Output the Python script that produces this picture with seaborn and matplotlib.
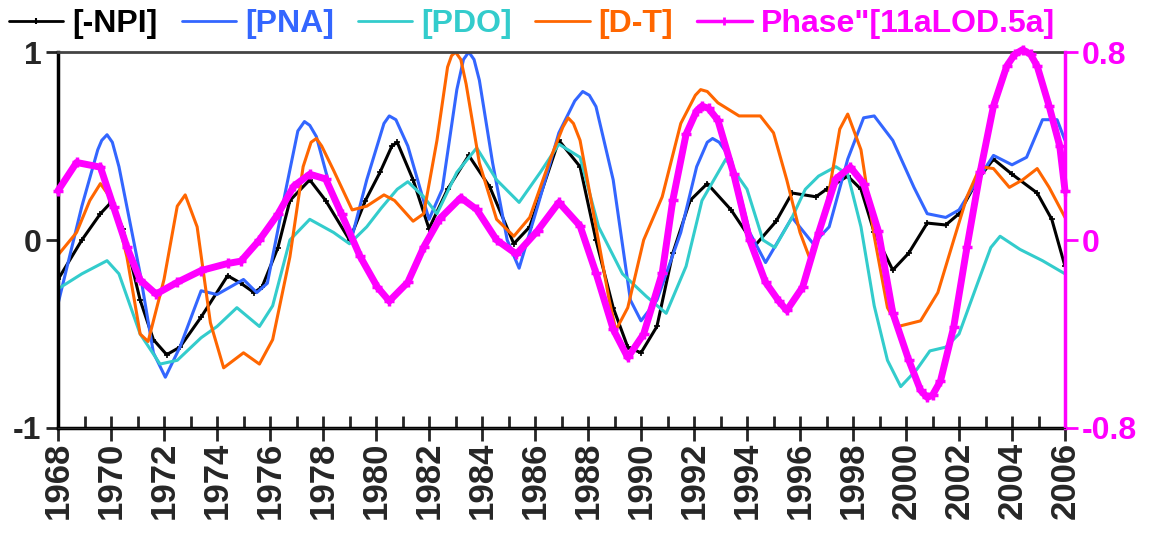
import matplotlib
matplotlib.use("Agg")
import matplotlib.pyplot as plt
import seaborn as sns
from matplotlib.lines import Line2D
from matplotlib.ticker import MultipleLocator

# values (year, value)
npi_x = [1968.0, 1968.9, 1969.6, 1970.0, 1970.45, 1971.1, 1971.6, 1972.1, 1972.6, 1973.4,
         1974.4, 1974.9, 1975.4, 1975.7, 1976.3, 1976.75, 1977.5, 1978.1, 1979.0, 1979.6,
         1980.15, 1980.6, 1980.8, 1981.4, 1982.0, 1982.7, 1983.5, 1984.3, 1985.2, 1985.8,
         1986.9, 1987.7, 1988.3, 1988.95, 1989.5, 1990.0, 1990.6, 1991.2, 1991.85, 1992.5,
         1993.4, 1994.3, 1995.1, 1995.7, 1996.6, 1997.0, 1997.8, 1998.3, 1998.8, 1999.5,
         2000.1, 2000.8, 2001.5, 2002.0, 2002.7, 2003.3, 2004.0, 2004.95, 2005.5, 2006.0]
npi_y = [-0.21, 0.0, 0.14, 0.2, 0.06, -0.32, -0.53, -0.61, -0.57, -0.41,
         -0.19, -0.23, -0.28, -0.25, -0.04, 0.21, 0.32, 0.21, 0.0, 0.21,
         0.36, 0.5, 0.52, 0.32, 0.06, 0.27, 0.45, 0.28, -0.02, 0.07,
         0.53, 0.39, 0.0, -0.36, -0.57, -0.6, -0.46, -0.07, 0.21, 0.3,
         0.16, -0.03, 0.1, 0.25, 0.23, 0.27, 0.34, 0.27, 0.04, -0.16,
         -0.07, 0.09, 0.08, 0.14, 0.32, 0.43, 0.35, 0.25, 0.11, -0.14]

pna_x = [1968.0, 1968.9, 1969.5, 1969.65, 1969.85, 1970.05, 1970.3, 1971.1, 1971.6, 1972.05,
         1972.6, 1973.4, 1974.0, 1975.0, 1975.5, 1975.9, 1976.6, 1977.05, 1977.3, 1977.5,
         1977.75, 1978.4, 1979.1, 1979.65, 1980.3, 1980.5, 1980.75, 1981.2, 1982.0, 1982.5,
         1983.05, 1983.3, 1983.5, 1983.7, 1983.9, 1984.4, 1984.95, 1985.4, 1986.1, 1986.9,
         1987.5, 1987.8, 1988.05, 1988.3, 1988.95, 1989.6, 1990.0, 1990.6, 1991.5, 1992.1,
         1992.5, 1992.7, 1992.95, 1993.4, 1994.1, 1994.7, 1995.7, 1996.5, 1997.1, 1997.8,
         1998.4, 1998.8, 1999.5, 2000.3, 2000.8, 2001.5, 2002.0, 2002.7, 2003.3, 2004.0,
         2004.55, 2005.15, 2005.7, 2006.0]
pna_y = [-0.34, 0.18, 0.48, 0.53, 0.56, 0.52, 0.39, -0.18, -0.6, -0.73,
         -0.57, -0.27, -0.29, -0.21, -0.28, -0.23, 0.27, 0.58, 0.63, 0.61,
         0.55, 0.21, 0.02, 0.32, 0.62, 0.66, 0.64, 0.5, 0.11, 0.27,
         0.8, 0.96, 1.0, 0.96, 0.85, 0.41, 0.0, -0.15, 0.18, 0.57,
         0.74, 0.79, 0.77, 0.71, 0.32, -0.32, -0.43, -0.32, 0.04, 0.39,
         0.52, 0.54, 0.52, 0.43, 0.04, -0.12, 0.12, -0.02, 0.07, 0.43,
         0.65, 0.66, 0.53, 0.28, 0.14, 0.12, 0.16, 0.32, 0.45, 0.4,
         0.44, 0.64, 0.64, 0.53]

pdo_x = [1968.0, 1968.9, 1969.85, 1970.3, 1971.1, 1971.85, 1972.5, 1973.4, 1974.0, 1974.75,
         1975.6, 1976.1, 1976.75, 1977.5, 1978.4, 1979.0, 1979.65, 1980.2, 1980.8, 1981.2,
         1981.8, 1982.3, 1983.05, 1983.8, 1984.55, 1985.4, 1986.2, 1986.9, 1987.7, 1988.4,
         1989.3, 1990.2, 1990.95, 1991.7, 1992.3, 1993.2, 1994.0, 1994.6, 1995.05, 1995.7,
         1996.2, 1996.7, 1997.35, 1997.8, 1998.3, 1998.8, 1999.3, 1999.8, 2000.4, 2000.9,
         2001.5, 2002.0, 2002.7, 2003.2, 2003.55, 2004.3, 2005.15, 2006.0]
pdo_y = [-0.26, -0.18, -0.11, -0.18, -0.5, -0.66, -0.64, -0.52, -0.46, -0.36,
         -0.46, -0.35, 0.0, 0.11, 0.04, -0.02, 0.07, 0.17, 0.27, 0.31,
         0.23, 0.14, 0.36, 0.49, 0.32, 0.2, 0.36, 0.51, 0.44, 0.07,
         -0.18, -0.3, -0.39, -0.14, 0.21, 0.43, 0.27, 0.0, -0.04, 0.12,
         0.27, 0.34, 0.39, 0.35, 0.07, -0.35, -0.64, -0.78, -0.69, -0.59,
         -0.57, -0.5, -0.23, -0.04, 0.02, -0.05, -0.11, -0.18]

dt_x = [1968.0, 1968.7, 1969.2, 1969.6, 1970.1, 1970.6, 1971.1, 1971.4, 1972.0, 1972.5,
        1972.8, 1973.25, 1973.75, 1974.25, 1975.0, 1975.6, 1976.1, 1976.75, 1977.25, 1977.55,
        1977.75, 1977.95, 1978.4, 1979.1, 1979.65, 1980.3, 1980.7, 1981.4, 1981.8, 1982.3,
        1982.7, 1982.85, 1983.0, 1983.2, 1983.4, 1983.9, 1984.55, 1985.2, 1985.8, 1986.6,
        1987.05, 1987.25, 1987.45, 1987.7, 1988.3, 1988.8, 1989.05, 1989.5, 1990.1, 1990.8,
        1991.5, 1992.05, 1992.25, 1992.5, 1992.9, 1993.7, 1994.5, 1995.0, 1995.5, 1996.0,
        1996.4, 1997.0, 1997.5, 1997.8, 1998.3, 1998.8, 1999.3, 1999.7, 2000.55, 2001.2,
        2001.8, 2002.3, 2002.8, 2003.3, 2003.9, 2004.4, 2004.95, 2005.4, 2006.0]
dt_y = [-0.08, 0.04, 0.21, 0.3, 0.2, -0.09, -0.5, -0.54, -0.21, 0.18,
        0.24, 0.07, -0.44, -0.68, -0.6, -0.66, -0.53, -0.09, 0.39, 0.52,
        0.54, 0.5, 0.37, 0.16, 0.18, 0.24, 0.21, 0.1, 0.14, 0.53,
        0.92, 0.98, 1.0, 0.96, 0.83, 0.41, 0.11, 0.02, 0.12, 0.44,
        0.6, 0.65, 0.62, 0.53, 0.07, -0.32, -0.48, -0.36, 0.0, 0.23,
        0.62, 0.77, 0.8, 0.79, 0.73, 0.66, 0.66, 0.57, 0.32, 0.04,
        -0.11, 0.18, 0.59, 0.67, 0.48, 0.02, -0.36, -0.46, -0.43, -0.28,
        0.0, 0.23, 0.39, 0.38, 0.28, 0.32, 0.38, 0.28, 0.12]

lod_x = [1968.0, 1968.7, 1969.6, 1970.1, 1970.6, 1971.1, 1971.7, 1972.5, 1973.4, 1974.4,
         1974.9, 1975.6, 1976.3, 1976.9, 1977.5, 1978.1, 1978.7, 1979.4, 1980.05, 1980.5,
         1981.2, 1981.8, 1982.4, 1983.2, 1983.8, 1984.55, 1985.3, 1986.1, 1986.9, 1987.7,
         1988.3, 1988.95, 1989.5, 1990.1, 1990.8, 1991.2, 1991.7, 1992.1, 1992.3, 1992.55,
         1992.9, 1993.5, 1994.1, 1994.7, 1995.2, 1995.5, 1996.1, 1996.7, 1997.35, 1997.9,
         1998.4, 1998.95, 1999.5, 2000.1, 2000.55, 2000.8, 2001.0, 2001.3, 2001.8, 2002.3,
         2002.8, 2003.3, 2003.8, 2004.1, 2004.4, 2004.7, 2004.95, 2005.4, 2005.8, 2006.0]
lod_y = [0.21, 0.33, 0.31, 0.14, -0.03, -0.17, -0.23, -0.18, -0.13, -0.1,
         -0.09, 0.0, 0.11, 0.23, 0.28, 0.26, 0.11, -0.07, -0.2, -0.26,
         -0.18, -0.03, 0.09, 0.18, 0.13, 0.0, -0.06, 0.04, 0.16, 0.06,
         -0.14, -0.38, -0.5, -0.4, -0.14, 0.17, 0.45, 0.55, 0.57, 0.56,
         0.51, 0.28, 0.0, -0.18, -0.26, -0.3, -0.2, 0.03, 0.26, 0.31,
         0.24, 0.04, -0.31, -0.51, -0.64, -0.67, -0.66, -0.6, -0.37, -0.03,
         0.29, 0.57, 0.74, 0.79, 0.81, 0.79, 0.74, 0.57, 0.4, 0.21]

year_ticks = list(range(1968, 2007, 2))
labels = ["[-NPI]", "[PNA]", "[PDO]", "[D-T]", 'Phase"[11aLOD.5a]']
colors = ["black", "#3366ff", "#33cccc", "#ff6600", "#ff00ff"]

sns.set_style("ticks")
plt.rcParams["font.family"] = ["Liberation Sans", "DejaVu Sans"]
plt.rcParams["font.weight"] = "bold"

fig = plt.figure(figsize=(11.51, 5.38), dpi=100)
ax = fig.add_axes([0.0504, 0.2045, 0.8749, 0.6988])
ax2 = ax.twinx()

sns.lineplot(x=npi_x, y=npi_y, ax=ax, color=colors[0], lw=2.2, marker="+", ms=4, mew=1.2,
             mec=colors[0], estimator=None, sort=False, legend=False)
sns.lineplot(x=pna_x, y=pna_y, ax=ax, color=colors[1], lw=2.2,
             estimator=None, sort=False, legend=False)
sns.lineplot(x=pdo_x, y=pdo_y, ax=ax, color=colors[2], lw=2.2,
             estimator=None, sort=False, legend=False)
sns.lineplot(x=dt_x, y=dt_y, ax=ax, color=colors[3], lw=2.2,
             estimator=None, sort=False, legend=False)
sns.lineplot(x=lod_x, y=lod_y, ax=ax2, color=colors[4], lw=5, marker="+", ms=7, mew=2.5,
             mec=colors[4], estimator=None, sort=False, legend=False)
for ln in ax2.lines:
    ln.set_clip_on(False)

ax.set_xlim(1968, 2006)
ax.set_ylim(-1, 1)
ax2.set_ylim(-0.8, 0.8)
ax.set_yticks([-1, 0, 1])
ax.set_yticklabels(["-1", "0", "1"])
ax2.set_yticks([-0.8, 0, 0.8])
ax2.set_yticklabels(["-0.8", "0", "0.8"])
ax.set_xticks(year_ticks)
ax.set_xticklabels([str(y) for y in year_ticks], rotation=90)
ax.xaxis.set_minor_locator(MultipleLocator(1))

ax.tick_params(axis="x", which="major", direction="inout", length=18, width=2,
               labelsize=25, pad=1)
ax.tick_params(axis="x", which="minor", direction="in", length=9, width=2)
ax.tick_params(axis="y", direction="out", length=9, width=2, labelsize=23, pad=3)
ax2.tick_params(axis="y", direction="out", length=9, width=2, labelsize=23, pad=3,
                colors=colors[4])

for s in ["left", "bottom"]:
    ax.spines[s].set_linewidth(2.5)
    ax.spines[s].set_color("black")
ax.spines["top"].set_linewidth(2)
ax.spines["top"].set_color("#444444")
ax2.spines["right"].set_visible(True)
ax2.spines["right"].set_color(colors[4])
ax2.spines["right"].set_linewidth(2.5)
ax2.spines["left"].set_visible(False)
ax2.spines["top"].set_visible(False)
ax.set_xlabel("")
ax.set_ylabel("")
ax2.set_ylabel("")

handles = [
    Line2D([], [], color=colors[0], lw=2, marker="|", ms=5, mew=1.5),
    Line2D([], [], color=colors[1], lw=2),
    Line2D([], [], color=colors[2], lw=2),
    Line2D([], [], color=colors[3], lw=2),
    Line2D([], [], color=colors[4], lw=2.5, marker="|", ms=6, mew=2),
]
fig.legend(handles, labels, loc="center left", bbox_to_anchor=(-0.006, 0.955), ncol=5,
           frameon=False, handlelength=1.7, handletextpad=0.28, borderpad=0,
           columnspacing=0.75, labelcolor=colors, prop={"weight": "bold", "size": 23})

fig.savefig("out.png", dpi=100)
